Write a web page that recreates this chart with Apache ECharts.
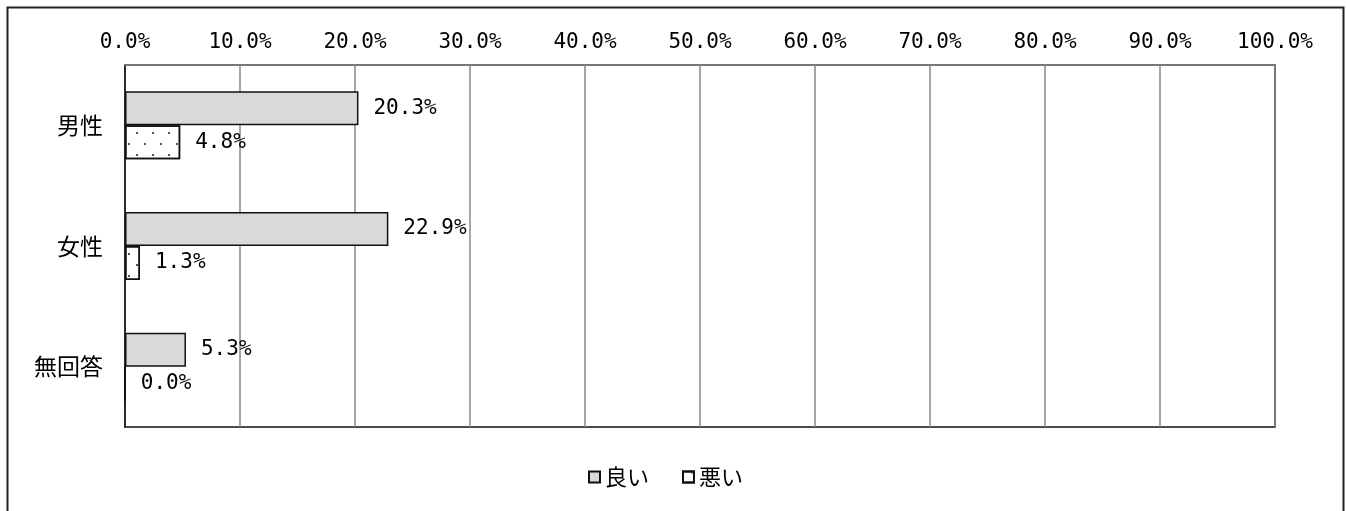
<!DOCTYPE html>
<html><head><meta charset="utf-8">
<script src="https://cdn.jsdelivr.net/npm/echarts@6/dist/echarts.min.js"></script>
<style>html,body{margin:0;padding:0;background:#fff}#c{width:1346px;height:511px}</style>
</head><body><div id="c"></div>
<script>
const categories = ['男性', '女性', '無回答'];
const seriesNames = ['良い', '悪い'];
const goodValues = [20.3, 22.9, 5.3];
const badValues = [4.8, 1.3, 0.0];
const xTicks = [0, 10, 20, 30, 40, 50, 60, 70, 80, 90, 100];

const FONT = '"Noto Sans CJK JP", sans-serif';
const NUMFONT = '"DejaVu Sans Mono", monospace';
const chart = echarts.init(document.getElementById('c'), null, {renderer: 'canvas'});
const labelCfg = {
  show: true, position: 'right', distance: 15, color: '#000',
  fontSize: 21, fontFamily: NUMFONT,
  formatter: p => p.value.toFixed(1) + '%'
};
chart.setOption({
  animation: false,
  backgroundColor: '#fff',
  textStyle: {fontFamily: FONT},
  graphic: [{
    type: 'rect', left: 5, top: 5, silent: true,
    shape: {width: 1336, height: 560},
    style: {fill: 'none', stroke: '#222', lineWidth: 2}
  }],
  grid: {left: 125, right: 71, top: 65, bottom: 84, show: true, borderColor: '#111', borderWidth: 1.5},
  legend: {
    bottom: 18, left: 583, itemWidth: 11, itemHeight: 11, itemGap: 33,
    icon: 'rect',
    textStyle: {fontSize: 22, color: '#000', fontFamily: FONT, padding: [0, 0, 0, 0]},
    data: seriesNames
  },
  xAxis: {
    type: 'value', position: 'top', min: xTicks[0], max: xTicks[xTicks.length - 1], interval: 10,
    axisLine: {show: true, lineStyle: {color: '#888', width: 1.5}},
    axisTick: {show: false},
    axisLabel: {margin: 12, fontSize: 21, color: '#000', fontFamily: NUMFONT, formatter: v => v.toFixed(1) + '%'},
    splitLine: {show: true, lineStyle: {color: '#888', width: 1.5}}
  },
  yAxis: {
    type: 'category', inverse: true, data: categories,
    axisLine: {show: true, lineStyle: {color: '#111', width: 1.5}},
    axisTick: {show: false},
    axisLabel: {margin: 22, fontSize: 23, color: '#000', fontFamily: FONT}
  },
  series: [
    {
      name: seriesNames[0], type: 'bar', data: goodValues, barWidth: 34, barGap: '0%',
      itemStyle: {color: '#d9d9d9', borderColor: '#111', borderWidth: 1.5},
      label: labelCfg
    },
    {
      name: seriesNames[1], type: 'bar', data: badValues, barWidth: 34, barGap: '0%',
      itemStyle: {
        color: '#fff', borderColor: '#111', borderWidth: 1.5,
        decal: {symbol: 'rect', symbolSize: 1, color: '#555',
          dashArrayX: [[2, 14], [0, 8, 2, 6]], dashArrayY: [2, 9], rotation: 0}
      },
      label: labelCfg
    }
  ]
});
</script></body></html>
